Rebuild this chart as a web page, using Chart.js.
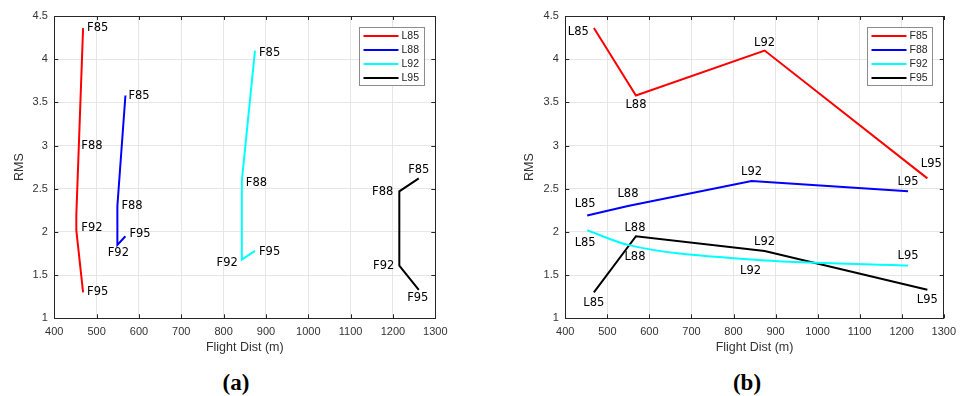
<!DOCTYPE html>
<html>
<head>
<meta charset="utf-8">
<script src="https://cdn.jsdelivr.net/npm/chart.js@4.4.1/dist/chart.umd.min.js"></script>
<style>
  body { margin: 0; background: #fff; }
  #page { position: relative; width: 963px; height: 396px; overflow: hidden; }
  .panel { position: absolute; top: 0; height: 360px; }
  #wrap-a { left: 0; width: 480px; }
  #wrap-b { left: 480px; width: 483px; }
  .cap { position: absolute; top: 370px; width: 60px; margin-left: -30px; text-align: center;
         font: bold 23px "Liberation Serif", serif; color: #000; line-height: 26px; }
</style>
</head>
<body>
<div id="page">
  <div class="panel" id="wrap-a"><canvas id="chart-a"></canvas></div>
  <div class="panel" id="wrap-b"><canvas id="chart-b"></canvas></div>
  <div class="cap" style="left:236px">(a)</div>
  <div class="cap" style="left:747px">(b)</div>
</div>
<script>
// L = series in panel (a), F = points along each line; panel (b) is the transpose
const lSeries = ["L85", "L88", "L92", "L95"];
const fSeries = ["F85", "F88", "F92", "F95"];

// flight distance (m) for each L, ordered F85, F88, F92, F95
const distL85 = [468, 452, 452, 468];
const distL88 = [568, 549, 549, 568];
const distL92 = [874, 843, 843, 874];
const distL95 = [1261, 1215, 1215, 1261];

// RMS for each L, ordered F85, F88, F92, F95
const rmsL85 = [4.36, 2.19, 2.02, 1.30];
const rmsL88 = [3.58, 2.30, 1.85, 1.95];
const rmsL92 = [4.10, 2.59, 1.68, 1.78];
const rmsL95 = [2.62, 2.47, 1.61, 1.33];

const xTicks = [400, 500, 600, 700, 800, 900, 1000, 1100, 1200, 1300];
const yTicks = [1, 1.5, 2, 2.5, 3, 3.5, 4, 4.5];

const lineColors = ["#ff0000", "#0000ff", "#00ffff", "#000000"];

const distRows = [distL85, distL88, distL92, distL95];
const rmsRows = [rmsL85, rmsL88, rmsL92, rmsL95];

// text offsets [dx, dy, align] for the point labels
const offsetsA = [
  [[4, 0, "left"], [5, -70, "left"], [5, -2, "left"], [4, 0, "left"]],
  [[3, 1, "left"], [4, 0, "left"], [1, 8, "center"], [4, -2, "left"]],
  [[4, 2, "left"], [4, 2, "left"], [-4, 3, "right"], [4, 1, "left"]],
  [[0, -8, "center"], [-6, 1, "right"], [-5, 0, "right"], [-1, 8, "center"]]
];
const offsetsB = [
  [[-5, 4, "right"], [0, 10, "center"], [0, -8, "center"], [4, -14, "center"]],
  [[-2, -12, "center"], [0, -12, "center"], [0, -9, "center"], [0, -9, "center"]],
  [[-2, 13, "center"], [7, 12, "center"], [-1, 11, "center"], [0, -10, "center"]],
  [[0, 11, "center"], [-1, -8, "center"], [0, -9, "center"], [0, 10, "center"]]
];

// panel (a): one line per L, going through the F points
const datasetsA = lSeries.map((name, i) => ({
  label: name,
  data: fSeries.map((f, j) => ({ x: distRows[i][j], y: rmsRows[i][j] })),
  pointText: fSeries,
  pointOffsets: offsetsA[i],
  borderColor: lineColors[i],
  borderWidth: 2,
  pointRadius: 0,
  showLine: true,
  tension: 0
}));

// panel (b): one line per F, going through the L points
const datasetsB = fSeries.map((name, j) => ({
  label: name,
  data: lSeries.map((l, i) => ({ x: distRows[i][j], y: rmsRows[i][j] })),
  pointText: lSeries,
  pointOffsets: offsetsB[j],
  borderColor: lineColors[j],
  borderWidth: 2,
  pointRadius: 0,
  showLine: true,
  cubicInterpolationMode: j === 2 ? "monotone" : "default",
  tension: 0
}));

const frameColor = "#262626";

// box, inward ticks, point labels and legend like the original figure
const figurePlugin = {
  id: "figure",
  afterDatasetsDraw(chart) {
    const { ctx, chartArea: a, scales } = chart;
    ctx.save();

    // point labels
    ctx.font = '11.5px "DejaVu Sans", sans-serif';
    ctx.fillStyle = "#000";
    ctx.textBaseline = "middle";
    chart.data.datasets.forEach((ds, i) => {
      const meta = chart.getDatasetMeta(i);
      meta.data.forEach((pt, j) => {
        const [dx, dy, align] = ds.pointOffsets[j];
        ctx.textAlign = align;
        ctx.fillText(ds.pointText[j], pt.x + dx, pt.y + dy);
      });
    });

    // frame
    ctx.strokeStyle = frameColor;
    ctx.lineWidth = 1;
    ctx.strokeRect(Math.round(a.left) + 0.5, Math.round(a.top) + 0.5,
      Math.round(a.width), Math.round(a.height));

    // inward ticks on all sides
    const tl = 4;
    ctx.beginPath();
    xTicks.forEach(v => {
      const x = Math.round(scales.x.getPixelForValue(v)) + 0.5;
      ctx.moveTo(x, a.bottom); ctx.lineTo(x, a.bottom - tl);
      ctx.moveTo(x, a.top); ctx.lineTo(x, a.top + tl);
    });
    yTicks.forEach(v => {
      const y = Math.round(scales.y.getPixelForValue(v)) + 0.5;
      ctx.moveTo(a.left, y); ctx.lineTo(a.left + tl, y);
      ctx.moveTo(a.right, y); ctx.lineTo(a.right - tl, y);
    });
    ctx.stroke();

    // legend in the top right corner
    const bw = 65, bh = 58;
    const bx = Math.round(a.right - 11.5 - bw) + 0.5;
    const by = Math.round(a.top + 11) + 0.5;
    ctx.fillStyle = "#fff";
    ctx.fillRect(bx, by, bw, bh);
    ctx.strokeStyle = "#8c8c8c";
    ctx.strokeRect(bx, by, bw, bh);
    ctx.font = '10.5px "Liberation Sans", Arial, sans-serif';
    ctx.textAlign = "left";
    chart.data.datasets.forEach((ds, i) => {
      const y = by + 8.5 + i * 14;
      ctx.strokeStyle = ds.borderColor;
      ctx.lineWidth = 2;
      ctx.beginPath();
      ctx.moveTo(bx + 4, y);
      ctx.lineTo(bx + 39, y);
      ctx.stroke();
      ctx.fillStyle = "#262626";
      ctx.fillText(ds.label, bx + 42, y + 0.5);
    });

    ctx.restore();
  }
};

function makePanel(canvasId, datasets, yAxisWidth, yTitlePad, padRight) {
  const canvas = document.getElementById(canvasId);
  const ctx = canvas.getContext("2d");
  const tickFont = { family: '"Liberation Sans", Arial, sans-serif', size: 11 };

  return new Chart(ctx, {
    type: "scatter",
    data: { datasets },
    options: {
      responsive: true,
      maintainAspectRatio: false,
      animation: false,
      layout: { padding: { left: 0, top: 16, right: padRight, bottom: 0 } },
      plugins: {
        legend: { display: false },
        tooltip: { enabled: false }
      },
      scales: {
        x: {
          type: "linear",
          min: 400,
          max: 1300,
          afterBuildTicks: s => { s.ticks = xTicks.map(v => ({ value: v })); },
          afterFit: s => { s.height = 41.7; },
          grid: { color: "#e6e6e6", drawTicks: false },
          border: { display: false },
          ticks: { color: "#333", font: tickFont, padding: 7, maxRotation: 0, callback: v => String(v) },
          title: {
            display: true,
            text: "Flight Dist (m)",
            color: "#333",
            font: { family: '"Liberation Sans", Arial, sans-serif', size: 12.5 },
            padding: { top: 0, bottom: 4.8 }
          }
        },
        y: {
          type: "linear",
          min: 1,
          max: 4.5,
          afterBuildTicks: s => { s.ticks = yTicks.map(v => ({ value: v })); },
          afterFit: s => { s.width = yAxisWidth; },
          grid: { color: "#e6e6e6", drawTicks: false },
          border: { display: false },
          ticks: { color: "#333", font: tickFont, padding: 6.5, callback: v => String(v) },
          title: {
            display: true,
            text: "RMS",
            color: "#333",
            font: { family: '"Liberation Sans", Arial, sans-serif', size: 12.5 },
            padding: { top: yTitlePad, bottom: 0 }
          }
        }
      }
    },
    plugins: [figurePlugin]
  });
}

makePanel("chart-a", datasetsA, 54.3, 12.5, 44.7);
makePanel("chart-b", datasetsB, 85.3, 42.5, 15.7);
</script>
</body>
</html>
